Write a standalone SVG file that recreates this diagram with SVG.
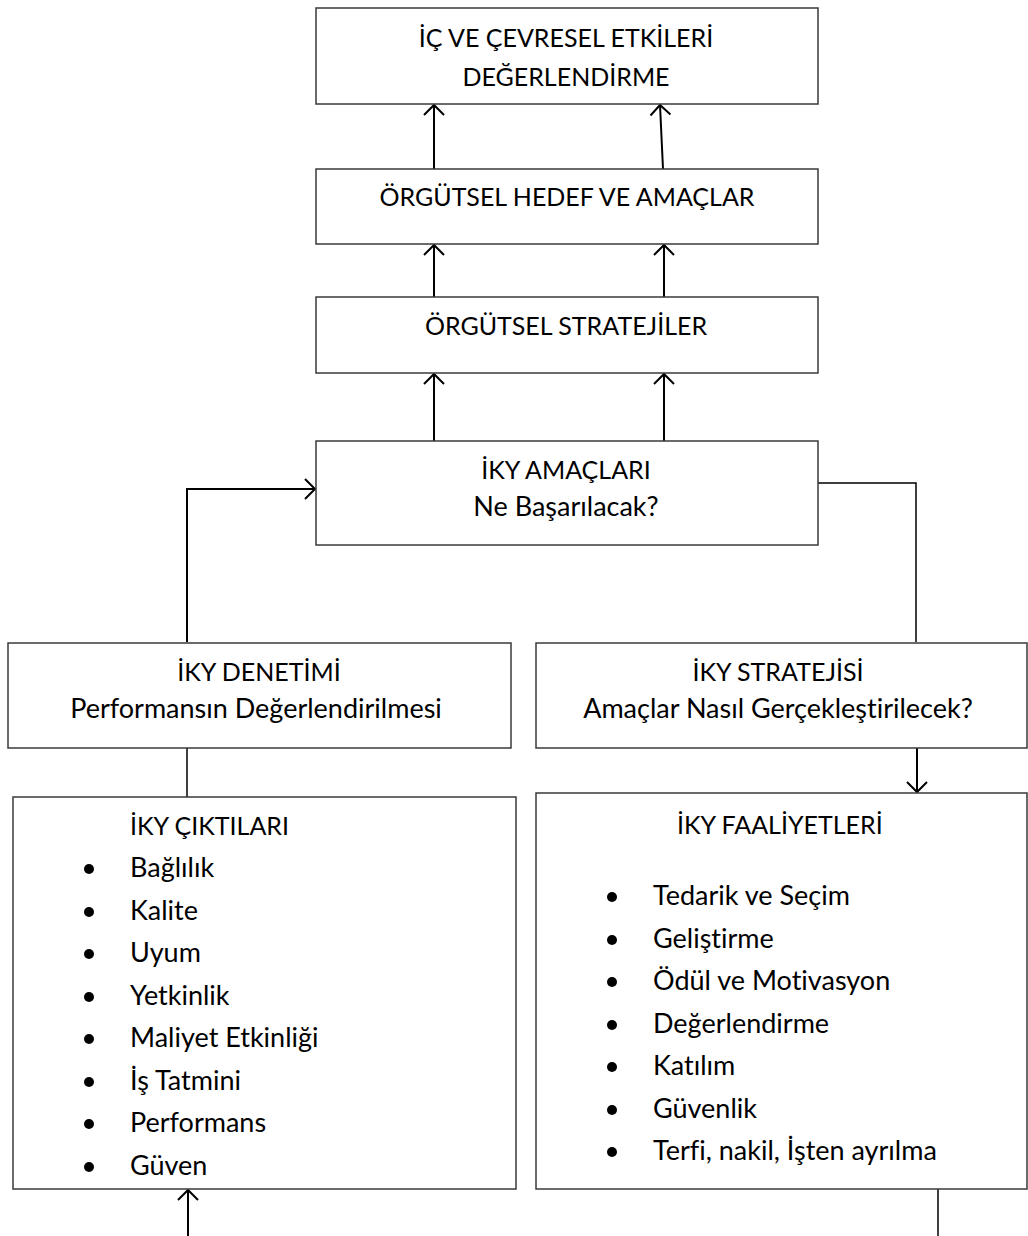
<svg xmlns="http://www.w3.org/2000/svg" width="1028" height="1236" viewBox="0 0 1028 1236">
  <defs>
    <marker id="open" viewBox="-12 -12 14 24" markerWidth="14" markerHeight="24" refX="0" refY="0" orient="auto" markerUnits="userSpaceOnUse">
      <path d="M-10,-10 L0,0 L-10,10" fill="none" stroke="#000" stroke-width="2"/>
    </marker>
  </defs>
  <style>
    .box { fill: #fff; stroke: #3a3a3a; stroke-width: 1.5; }
    .t { font-family: Lato, "Open Sans", "Liberation Sans", sans-serif; font-size: 27px; fill: #000; font-variant-ligatures: none; }
    .cap { font-size: 25px; }
    .c { text-anchor: middle; }
    .link { fill: none; stroke: #000; stroke-width: 2; }
    .thin { fill: none; stroke: #000; stroke-width: 1.5; }
    .dot { fill: #000; }
  </style>
  <rect width="1028" height="1236" fill="#fff"/>

  <g id="connectors">
    <line class="link" x1="434" y1="169" x2="434" y2="105" marker-end="url(#open)"/>
    <line class="link" x1="663" y1="169" x2="660" y2="105" marker-end="url(#open)"/>
    <line class="link" x1="434" y1="297" x2="434" y2="245" marker-end="url(#open)"/>
    <line class="link" x1="664" y1="297" x2="664" y2="245" marker-end="url(#open)"/>
    <line class="link" x1="434" y1="441" x2="434" y2="374" marker-end="url(#open)"/>
    <line class="link" x1="664" y1="441" x2="664" y2="374" marker-end="url(#open)"/>
    <polyline class="link" points="187,642 187,489 315,489" marker-end="url(#open)"/>
    <polyline class="thin" points="818,483 916,483 916,642"/>
    <line class="thin" x1="187" y1="748" x2="187" y2="797"/>
    <line class="link" x1="917" y1="748" x2="917" y2="792" marker-end="url(#open)"/>
    <line class="link" x1="188" y1="1236" x2="188" y2="1190" marker-end="url(#open)"/>
    <line class="thin" x1="938" y1="1189" x2="938" y2="1236"/>
  </g>

  <g id="etkiler">
    <rect class="box" x="316" y="8" width="502" height="96"/>
    <text class="t cap c" x="566" y="47">İÇ VE ÇEVRESEL ETKİLERİ</text>
    <text class="t cap c" x="566" y="86">DEĞERLENDİRME</text>
  </g>

  <g id="hedef">
    <rect class="box" x="316" y="169" width="502" height="75"/>
    <text class="t cap c" x="567" y="206">ÖRGÜTSEL HEDEF VE AMAÇLAR</text>
  </g>

  <g id="stratejiler">
    <rect class="box" x="316" y="297" width="502" height="76"/>
    <text class="t cap c" x="566" y="335">ÖRGÜTSEL STRATEJİLER</text>
  </g>

  <g id="iky-amaclari">
    <rect class="box" x="316" y="441" width="502" height="104"/>
    <text class="t cap c" x="566" y="479">İKY AMAÇLARI</text>
    <text class="t c" x="566" y="516">Ne Başarılacak?</text>
  </g>

  <g id="iky-denetimi">
    <rect class="box" x="8" y="643" width="503" height="105"/>
    <text class="t cap c" x="259" y="681">İKY DENETİMİ</text>
    <text class="t c" x="256" y="718">Performansın Değerlendirilmesi</text>
  </g>

  <g id="iky-stratejisi">
    <rect class="box" x="536" y="643" width="491" height="105"/>
    <text class="t cap c" x="778" y="681">İKY STRATEJİSİ</text>
    <text class="t c" x="778" y="718">Amaçlar Nasıl Gerçekleştirilecek?</text>
  </g>

  <g id="iky-ciktilari">
    <rect class="box" x="13" y="797" width="503" height="392"/>
    <text class="t cap" x="130" y="835">İKY ÇIKTILARI</text>
    <circle class="dot" cx="89" cy="869" r="5"/><text class="t" x="130" y="877">Bağlılık</text>
    <circle class="dot" cx="89" cy="912" r="5"/><text class="t" x="130" y="920">Kalite</text>
    <circle class="dot" cx="89" cy="954" r="5"/><text class="t" x="130" y="962">Uyum</text>
    <circle class="dot" cx="89" cy="997" r="5"/><text class="t" x="130" y="1005">Yetkinlik</text>
    <circle class="dot" cx="89" cy="1039" r="5"/><text class="t" x="130" y="1047">Maliyet Etkinliği</text>
    <circle class="dot" cx="89" cy="1082" r="5"/><text class="t" x="130" y="1090">İş Tatmini</text>
    <circle class="dot" cx="89" cy="1124" r="5"/><text class="t" x="130" y="1132">Performans</text>
    <circle class="dot" cx="89" cy="1167" r="5"/><text class="t" x="130" y="1175">Güven</text>
  </g>

  <g id="iky-faaliyetleri">
    <rect class="box" x="536" y="793" width="491" height="396"/>
    <text class="t cap" x="677" y="834">İKY FAALİYETLERİ</text>
    <circle class="dot" cx="612" cy="897" r="5"/><text class="t" x="653" y="905">Tedarik ve Seçim</text>
    <circle class="dot" cx="612" cy="940" r="5"/><text class="t" x="653" y="948">Geliştirme</text>
    <circle class="dot" cx="612" cy="982" r="5"/><text class="t" x="653" y="990">Ödül ve Motivasyon</text>
    <circle class="dot" cx="612" cy="1025" r="5"/><text class="t" x="653" y="1033">Değerlendirme</text>
    <circle class="dot" cx="612" cy="1067" r="5"/><text class="t" x="653" y="1075">Katılım</text>
    <circle class="dot" cx="612" cy="1110" r="5"/><text class="t" x="653" y="1118">Güvenlik</text>
    <circle class="dot" cx="612" cy="1152" r="5"/><text class="t" x="653" y="1160">Terfi, nakil, İşten ayrılma</text>
  </g>
</svg>
